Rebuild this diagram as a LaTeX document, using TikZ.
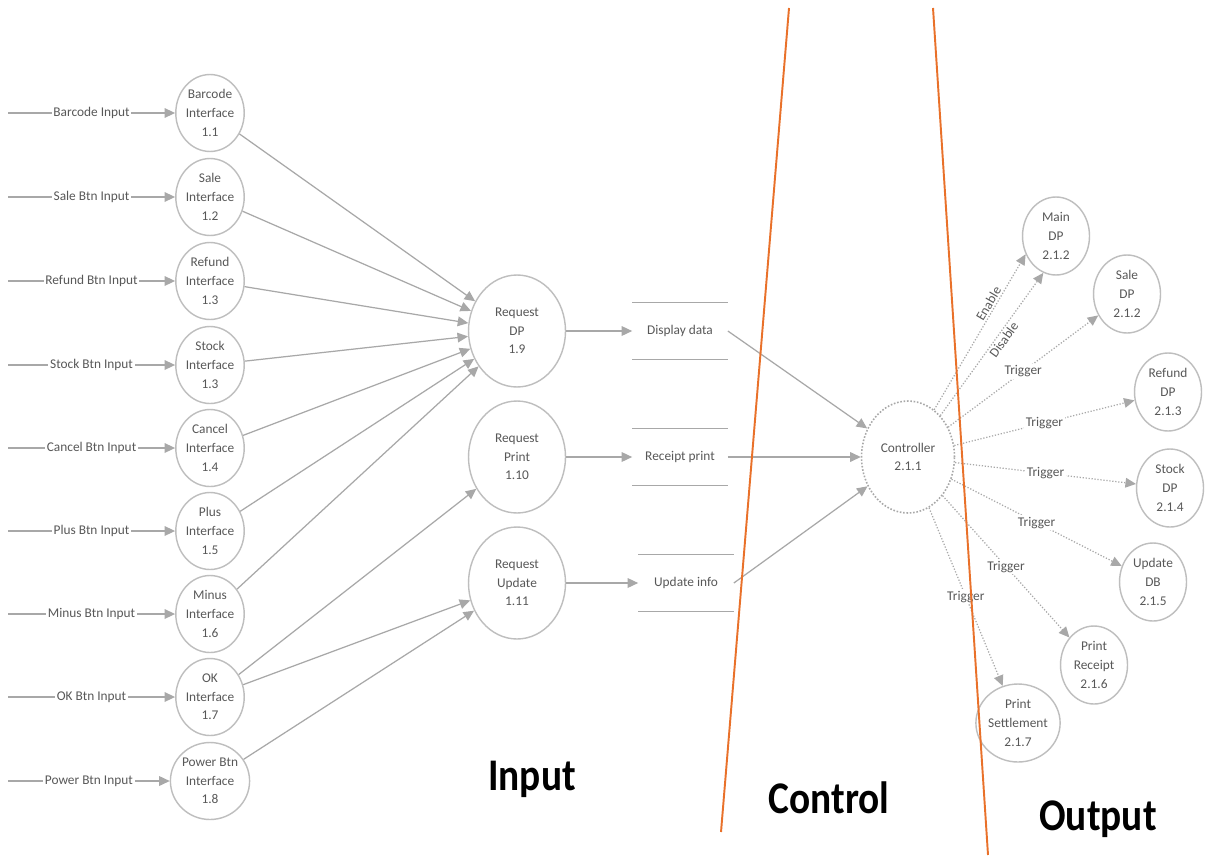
\documentclass[tikz,border=0pt]{standalone}
\usepackage{fontspec}
\setmainfont{Carlito}
\usetikzlibrary{shapes.geometric,arrows.meta}
\definecolor{lgray}{RGB}{190,190,190}
\definecolor{agray}{RGB}{168,168,168}
\definecolor{tgray}{RGB}{88,88,88}
\definecolor{orng}{RGB}{233,113,42}
\begin{document}
\begin{tikzpicture}[x=0.02cm,y=-0.02cm,
 font=\fontsize{7.6}{10.6}\selectfont,
 bub/.style={ellipse, draw=lgray, line width=0.8pt, inner sep=0pt, align=center, text=tgray},
 iface/.style={bub, minimum width=1.32cm, minimum height=1.54cm},
 req/.style={bub, minimum width=1.94cm, minimum height=2.24cm},
 outp/.style={bub, minimum width=1.34cm, minimum height=1.56cm},
 ctrlnode/.style={ellipse, draw=agray, line width=0.9pt, densely dotted, minimum width=1.86cm, minimum height=2.24cm, inner sep=0pt, align=center, text=tgray},
 store/.style={minimum width=1.9cm, minimum height=1.12cm, inner sep=0pt, text=tgray},
 storeline/.style={draw=agray, line width=0.8pt},
 flow/.style={draw=agray, line width=0.7pt, -{Triangle[length=6pt,width=5.5pt]}},
 dflow/.style={flow, densely dotted},
 lbl/.style={fill=white, inner sep=1pt, text=tgray},
 elbl/.style={inner sep=1pt, text=tgray},
 big/.style={font=\fontsize{22.4}{26}\selectfont\bfseries, text=black, anchor=base},
 divider/.style={draw=orng, line width=1.1pt}
]
\useasboundingbox[fill=white] (0,0) rectangle (1212,855);

% interfaces
\node[iface] (i1) at (210,113) {Barcode\\Interface\\1.1};
\node[iface] (i2) at (210,197) {Sale\\Interface\\1.2};
\node[iface] (i3) at (210,281) {Refund\\Interface\\1.3};
\node[iface] (i4) at (210,365) {Stock\\Interface\\1.3};
\node[iface] (i5) at (210,448) {Cancel\\Interface\\1.4};
\node[iface] (i6) at (210,531) {Plus\\Interface\\1.5};
\node[iface] (i7) at (210,614) {Minus\\Interface\\1.6};
\node[iface] (i8) at (210,697) {OK\\Interface\\1.7};
\node[iface] (i9) at (210,781) {Power Btn\\Interface\\1.8};

% input sources
\coordinate (c1) at (8,113);
\coordinate (c2) at (8,197);
\coordinate (c3) at (8,281);
\coordinate (c4) at (8,365);
\coordinate (c5) at (8,448);
\coordinate (c6) at (8,531);
\coordinate (c7) at (8,614);
\coordinate (c8) at (8,697);
\coordinate (c9) at (8,781);

\draw[flow] (c1) -- node[lbl] {Barcode Input} (i1);
\draw[flow] (c2) -- node[lbl] {Sale Btn Input} (i2);
\draw[flow] (c3) -- node[lbl] {Refund Btn Input} (i3);
\draw[flow] (c4) -- node[lbl] {Stock Btn Input} (i4);
\draw[flow] (c5) -- node[lbl] {Cancel Btn Input} (i5);
\draw[flow] (c6) -- node[lbl] {Plus Btn Input} (i6);
\draw[flow] (c7) -- node[lbl] {Minus Btn Input} (i7);
\draw[flow] (c8) -- node[lbl] {OK Btn Input} (i8);
\draw[flow] (c9) -- node[lbl] {Power Btn Input} (i9);

% requests
\node[req] (r1) at (517,331) {Request\\DP\\1.9};
\node[req] (r2) at (517,457) {Request\\Print\\1.10};
\node[req] (r3) at (517,583) {Request\\Update\\1.11};

\draw[flow] (i1) -- (r1);
\draw[flow] (i2) -- (r1);
\draw[flow] (i3) -- (r1);
\draw[flow] (i4) -- (r1);
\draw[flow] (i5) -- (r1);
\draw[flow] (i6) -- (r1);
\draw[flow] (i7) -- (r1);
\draw[flow] (i8) -- (r2);
\draw[flow] (i8) -- (r3);
\draw[flow] (i9) -- (r3);

% data stores
\node[store] (st1) at (680,331) {Display data};
\node[store] (st2) at (680,457) {Receipt print};
\node[store] (st3) at (686,583) {Update info};
\foreach \s in {st1,st2,st3}{
  \draw[storeline] (\s.north west) -- (\s.north east);
  \draw[storeline] (\s.south west) -- (\s.south east);
}
\draw[flow] (r1) -- (st1.west);
\draw[flow] (r2) -- (st2.west);
\draw[flow] (r3) -- (st3.west);

% controller
\node[ctrlnode] (ct) at (908,457) {Controller\\2.1.1};
\draw[flow] (st1.east) -- (ct);
\draw[flow] (st2.east) -- (ct);
\draw[flow] (st3.east) -- (ct);

% outputs
\node[outp] (o1) at (1056,236) {Main\\DP\\2.1.2};
\node[outp] (o2) at (1127,294) {Sale\\DP\\2.1.2};
\node[outp] (o3) at (1168,392) {Refund\\DP\\2.1.3};
\node[outp] (o4) at (1170,488) {Stock\\DP\\2.1.4};
\node[outp] (o5) at (1153,582) {Update\\DB\\2.1.5};
\node[outp] (o6) at (1094,665) {Print\\Receipt\\2.1.6};
\node[outp] (o7) at (1018,723) {Print\\Settlement\\2.1.7};

\draw[dflow] (ct.61) -- node[sloped, above, elbl, pos=0.66] {Enable} (o1.211);
\draw[dflow] (ct.52) -- node[sloped, below, elbl, pos=0.56] {Disable} (o1.251);
\draw[dflow] (ct) -- node[lbl] {Trigger} (o2);
\draw[dflow] (ct) -- node[lbl] {Trigger} (o3);
\draw[dflow] (ct) -- node[lbl] {Trigger} (o4);
\draw[dflow] (ct) -- node[lbl] {Trigger} (o5);
\draw[dflow] (ct) -- node[lbl] {Trigger} (o6);
\draw[dflow] (ct) -- node[lbl] {Trigger} (o7);

% section titles
\node[big] (tin) at (532,790) {\scalebox{1}[1.15]{Input}};
\node[big] (tct) at (829,813) {\scalebox{1}[1.15]{Control}};
\node[big] (tout) at (1098,830) {\scalebox{1}[1.15]{Output}};

% dividers
\coordinate (d1a) at (789,8);
\coordinate (d1b) at (721,832);
\coordinate (d2a) at (933,8);
\coordinate (d2b) at (988,855);
\draw[divider] (d1a) -- (d1b);
\draw[divider] (d2a) -- (d2b);
\end{tikzpicture}
\end{document}
